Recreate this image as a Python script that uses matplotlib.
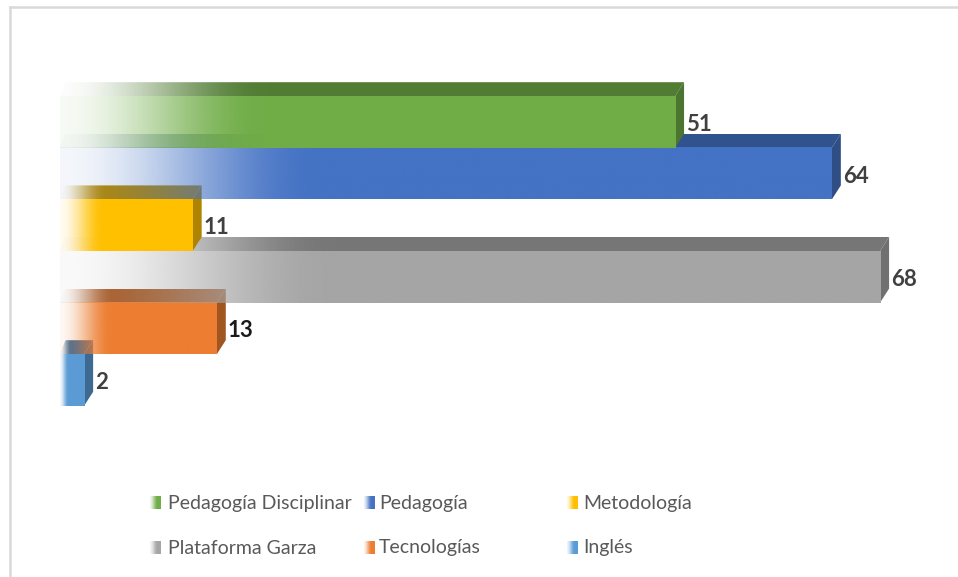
import numpy as np
import matplotlib
matplotlib.use("Agg")
import matplotlib.pyplot as plt
from matplotlib.colors import to_rgb
from matplotlib.patches import Polygon

# ------------------------------------------------------------
# Data
# ------------------------------------------------------------
categories = ["Pedagogía Disciplinar", "Pedagogía", "Metodología",
              "Plataforma Garza", "Tecnologías", "Inglés"]
values = [51, 64, 11, 68, 13, 2]
colors = ["#70AD47", "#4472C4", "#FFC000", "#A5A5A5", "#ED7D31", "#5B9BD5"]

W, H = 958, 577
plt.rcParams["font.family"] = ["Lato", "DejaVu Sans"]


def shade(color, f):
    return tuple(c * f for c in to_rgb(color))


def ramp_image(color, n=200, ramp=0.33, a0=0.06):
    t = np.linspace(0, 1, n)
    s = np.clip(t / ramp, 0, 1)
    s = s * s * (3 - 2 * s)
    img = np.zeros((1, n, 4))
    img[0, :, :3] = color
    img[0, :, 3] = a0 + (1 - a0) * s
    return img


fig = plt.figure(figsize=(W / 100, H / 100), dpi=100)

# overlay in pixel coordinates for frame + legend
over = fig.add_axes([0, 0, 1, 1])
over.set_xlim(0, W)
over.set_ylim(H, 0)
over.axis("off")
over.plot([10.5, W], [6.5, 6.5], color="#D9D9D9", lw=1.8)
over.plot([10.5, 10.5], [6.5, H], color="#D9D9D9", lw=1.8)

# ------------------------------------------------------------
# Bars (pseudo 3D)
# ------------------------------------------------------------
px_per_unit = 12.06
row_px = 51.6
ax = fig.add_axes([60 / W, 1 - 430 / H, 880 / W, 360 / H])
ax.axis("off")
x_max = 880 / px_per_unit
y_top = -(122 - 70) / row_px
y_bot = (430 - 122) / row_px

dx = 9 / px_per_unit
dy = 14 / row_px
n = len(values)

for i, (v, col) in enumerate(zip(values, colors)):
    z = 10 + (n - i) * 4
    base = to_rgb(col)
    top_c = shade(col, 0.72)
    side_c = shade(col, 0.68)
    y0, y1 = i - 0.5, i + 0.5

    # top face
    top_poly = Polygon([(0, y0), (v, y0), (v + dx, y0 - dy), (dx * 0.6, y0 - dy)],
                       closed=True, fill=False, edgecolor="none", zorder=z)
    ax.add_patch(top_poly)
    im = ax.imshow(ramp_image(top_c, a0=0.02), extent=[0, v + dx, y0, y0 - dy],
                   aspect="auto", interpolation="bilinear", zorder=z)
    im.set_clip_path(top_poly)

    # side face
    ax.add_patch(Polygon([(v, y0), (v + dx, y0 - dy), (v + dx, y1 - dy), (v, y1)],
                         closed=True, facecolor=side_c, edgecolor="none", zorder=z + 1))

    # front face
    ax.imshow(ramp_image(base), extent=[0, v, y1, y0], aspect="auto",
              interpolation="bilinear", zorder=z + 2)

    ax.text(v + dx + 0.15, i + 0.05, str(v), ha="left", va="center",
            fontsize=16, fontweight="bold",
            color="#1a1a1a" if v == 13 else "#404040", zorder=200)

ax.set_xlim(0, x_max)
ax.set_ylim(y_bot, y_top)

# ------------------------------------------------------------
# Legend
# ------------------------------------------------------------
marker_x = [150, 364, 567]
text_x = [168, 379, 583]
row_y = [503, 548]
for k, (name, col) in enumerate(zip(categories, colors)):
    r, c = divmod(k, 3)
    mx, my = marker_x[c], row_y[r]
    over.imshow(ramp_image(to_rgb(col), ramp=0.7, a0=0.1),
                extent=[mx, mx + 11, my + 6.5, my - 6.5],
                aspect="auto", interpolation="bilinear")
    over.text(text_x[c], my, name, ha="left", va="center",
              fontsize=14, color="#595959")
over.set_xlim(0, W)
over.set_ylim(H, 0)

fig.savefig("out.png", dpi=100)
plt.close(fig)
